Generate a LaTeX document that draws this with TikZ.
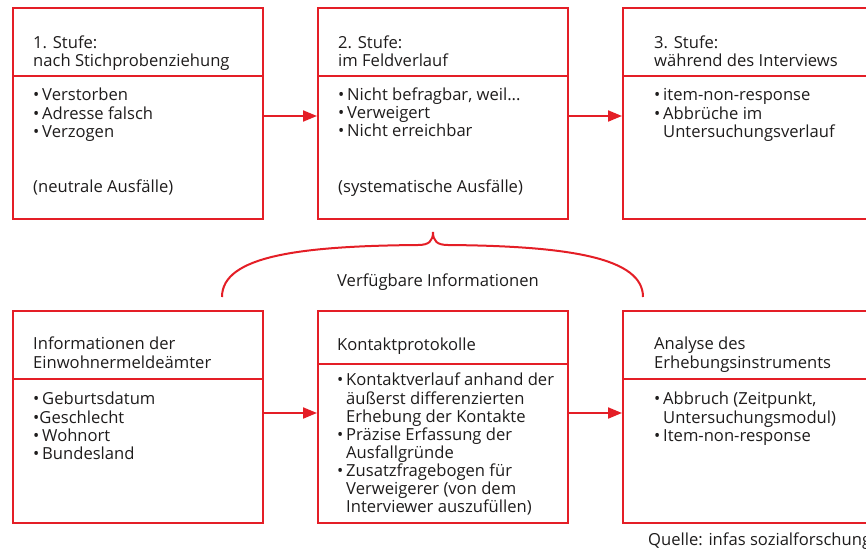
\documentclass[tikz,border=0pt]{standalone}
\usepackage{fontspec}
\setmainfont{Open Sans}
\usepackage{tikz}
\usetikzlibrary{arrows.meta}
\definecolor{infasRed}{RGB}{228,30,38}
\definecolor{infasText}{RGB}{30,28,28}
\newcommand{\bul}{\textbullet\,}
\newcommand{\ind}{\hphantom{\textbullet\,}}

\begin{document}
\begin{tikzpicture}[x=1pt, y=-1pt, >={Triangle[length=14pt,width=11pt]},
  font=\fontsize{16.6}{18}\selectfont, text=infasText,
  stufe/.style={draw=infasRed, line width=2pt, anchor=north west, inner sep=0pt,
    minimum width=250pt, minimum height=211pt},
  sep/.style={draw=infasRed, line width=2pt},
  arr/.style={->, draw=infasRed, fill=infasRed, line width=2pt},
  txt/.style={anchor=north west, inner sep=0pt, align=left}]
\useasboundingbox (0,0) rectangle (866,551);
\node[stufe] (s1) at (12,7) {};
\node[stufe] (s2) at (317,7) {};
\node[stufe] (s3) at (622,7) {};
\node[stufe, minimum height=212pt] (k1) at (12,310) {};
\node[stufe, minimum height=212pt] (k2) at (317,310) {};
\node[stufe, minimum height=212pt] (k3) at (622,310) {};
\draw[sep] ([yshift=-69pt]s1.north west) -- ([yshift=-69pt]s1.north east);
\draw[sep] ([yshift=-69pt]s2.north west) -- ([yshift=-69pt]s2.north east);
\draw[sep] ([yshift=-69pt]s3.north west) -- ([yshift=-69pt]s3.north east);
\draw[sep] ([yshift=-69pt]k1.north west) -- ([yshift=-69pt]k1.north east);
\draw[sep] ([yshift=-54pt]k2.north west) -- ([yshift=-54pt]k2.north east);
\draw[sep] ([yshift=-69pt]k3.north west) -- ([yshift=-69pt]k3.north east);
\node[txt] (s1h) at ([shift={(21,28.4)}]s1.north west) {\strut 1. Stufe:\\[-1pt] nach Stichprobenziehung};
\node[txt] (s1b) at ([shift={(21,80.4)}]s1.north west) {\strut\bul Verstorben\\ \bul Adresse falsch\\ \bul Verzogen};
\node[txt] (s1n) at ([shift={(21,172.4)}]s1.north west) {\strut(neutrale Ausfälle)};
\node[txt] (s2h) at ([shift={(21,28.4)}]s2.north west) {\strut 2. Stufe:\\[-1pt] im Feldverlauf};
\node[txt] (s2b) at ([shift={(21,80.4)}]s2.north west) {\strut\bul Nicht befragbar, weil...\\ \bul Verweigert\\ \bul Nicht erreichbar};
\node[txt] (s2n) at ([shift={(21,172.4)}]s2.north west) {\strut(systematische Ausfälle)};
\node[txt] (s3h) at ([shift={(32,28.4)}]s3.north west) {\strut 3. Stufe:\\[-1pt] während des Interviews};
\node[txt] (s3b) at ([shift={(32,80.4)}]s3.north west) {\strut\bul item-non-response\\ \bul Abbrüche im\\ \ind Untersuchungsverlauf};
\node[txt] (k1h) at ([shift={(21,26.9)}]k1.north west) {\strut Informationen der\\ Einwohnermeldeämter};
\node[txt] (k1b) at ([shift={(21,81.4)}]k1.north west) {\strut\bul Geburtsdatum\\ \textbullet Geschlecht\\ \bul Wohnort\\ \bul Bundesland};
\node[txt] (k2h) at ([shift={(20,27.4)}]k2.north west) {\strut Kontaktprotokolle};
\node[txt] (k2b) at ([shift={(20,62.4)}]k2.north west) {\strut\bul Kontaktverlauf anhand der\\ \ind äußerst differenzierten\\ \ind Erhebung der Kontakte\\ \bul Präzise Erfassung der\\ \ind Ausfallgründe\\ \bul Zusatzfragebogen für\\ \ind Verweigerer (von dem\\ \ind Interviewer auszufüllen)};
\node[txt] (k3h) at ([shift={(32,26.9)}]k3.north west) {\strut Analyse des\\ Erhebungsinstruments};
\node[txt] (k3b) at ([shift={(32,81.4)}]k3.north west) {\strut\bul Abbruch (Zeitpunkt,\\ \ind Untersuchungsmodul)\\ \bul Item-non-response};
\draw[arr] ([yshift=-2.5pt]s1.east) -- ([yshift=-2.5pt]s2.west);
\draw[arr] ([yshift=-2.5pt]s2.east) -- ([yshift=-2.5pt]s3.west);
\draw[arr] ([yshift=4pt]k1.east) -- ([yshift=4pt]k2.west);
\draw[arr] ([yshift=4pt]k2.east) -- ([yshift=4pt]k3.west);
\coordinate (bl) at (222,297);
\coordinate (bt) at (433,232);
\coordinate (br) at (643,297);
\draw[sep] (bl) .. controls (222,256) and (300,246) .. (418,245)
  .. controls (429,245) and (433,241) .. (bt)
  .. controls (433,241) and (437,245) .. (448,245)
  .. controls (570,246) and (643,258) .. (br);
\node[anchor=base] (vi) at (438,286.7) {Verfügbare Informationen};
\node[anchor=base west, inner sep=0pt] (src) at (648,545) {Quelle: infas sozialforschung};
\end{tikzpicture}
\end{document}
